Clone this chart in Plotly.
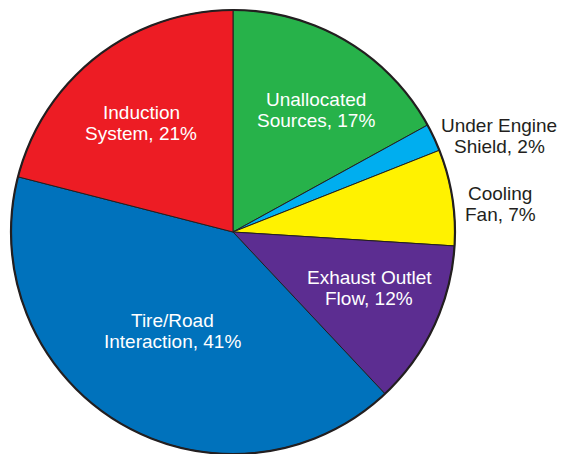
import plotly.graph_objects as go

# Share of vehicle aerodynamic drag by source (%), clockwise from 12 o'clock
sources = ["Unallocated\nSources", "Under Engine\nShield", "Cooling\nFan",
           "Exhaust Outlet\nFlow", "Tire/Road\nInteraction", "Induction\nSystem"]
shares = [17, 2, 7, 12, 41, 21]

# Styling
slice_colors = ["#27B24A", "#00AEEF", "#FFF200", "#5C2D91", "#0072BC", "#ED1C24"]
text_colors = ["white", "#231F20", "#231F20", "white", "white", "white"]
# baseline of the first label line (px from left, px from top)
label_pos = [(316, 106), (499, 132), (500, 200), (369, 284), (173, 327), (141, 119)]
LINE_GAP = 21
FONT = "Liberation Sans, Arial, Helvetica, sans-serif"
EDGE = "#231F20"
W, H = 561, 454
CX, CY, R = 233, 232, 222

dom_x = [(CX - R) / W, (CX + R) / W]
dom_y = [(H - CY - R) / H, (H - CY + R) / H]

fig = go.Figure(go.Pie(
    values=shares,
    labels=[s.replace("\n", " ") for s in sources],
    sort=False,
    direction="clockwise",
    rotation=0,
    marker=dict(colors=slice_colors, line=dict(color=EDGE, width=1)),
    textinfo="none",
    hoverinfo="label+percent",
    showlegend=False,
    domain=dict(x=dom_x, y=dom_y),
))

annotations = []
for name, val, col, (px, base) in zip(sources, shares, text_colors, label_pos):
    first, second = name.split("\n")
    lines = [first, f"{second}, {val}%"]
    for i, line in enumerate(lines):
        by = base + i * LINE_GAP
        annotations.append(dict(
            text=line, x=px / W, y=1 - (by - 6.5) / H,
            xref="paper", yref="paper", xanchor="center", yanchor="middle",
            showarrow=False, font=dict(family=FONT, size=19, color=col),
        ))

fig.update_layout(
    width=W, height=H,
    margin=dict(l=0, r=0, t=0, b=0),
    paper_bgcolor="white", plot_bgcolor="white",
    annotations=annotations,
    # heavier rim around the pie
    shapes=[dict(type="circle", xref="paper", yref="paper",
                 x0=dom_x[0], x1=dom_x[1], y0=dom_y[0], y1=dom_y[1],
                 line=dict(color=EDGE, width=2.2), layer="above")],
)

fig.write_html("out.html")
